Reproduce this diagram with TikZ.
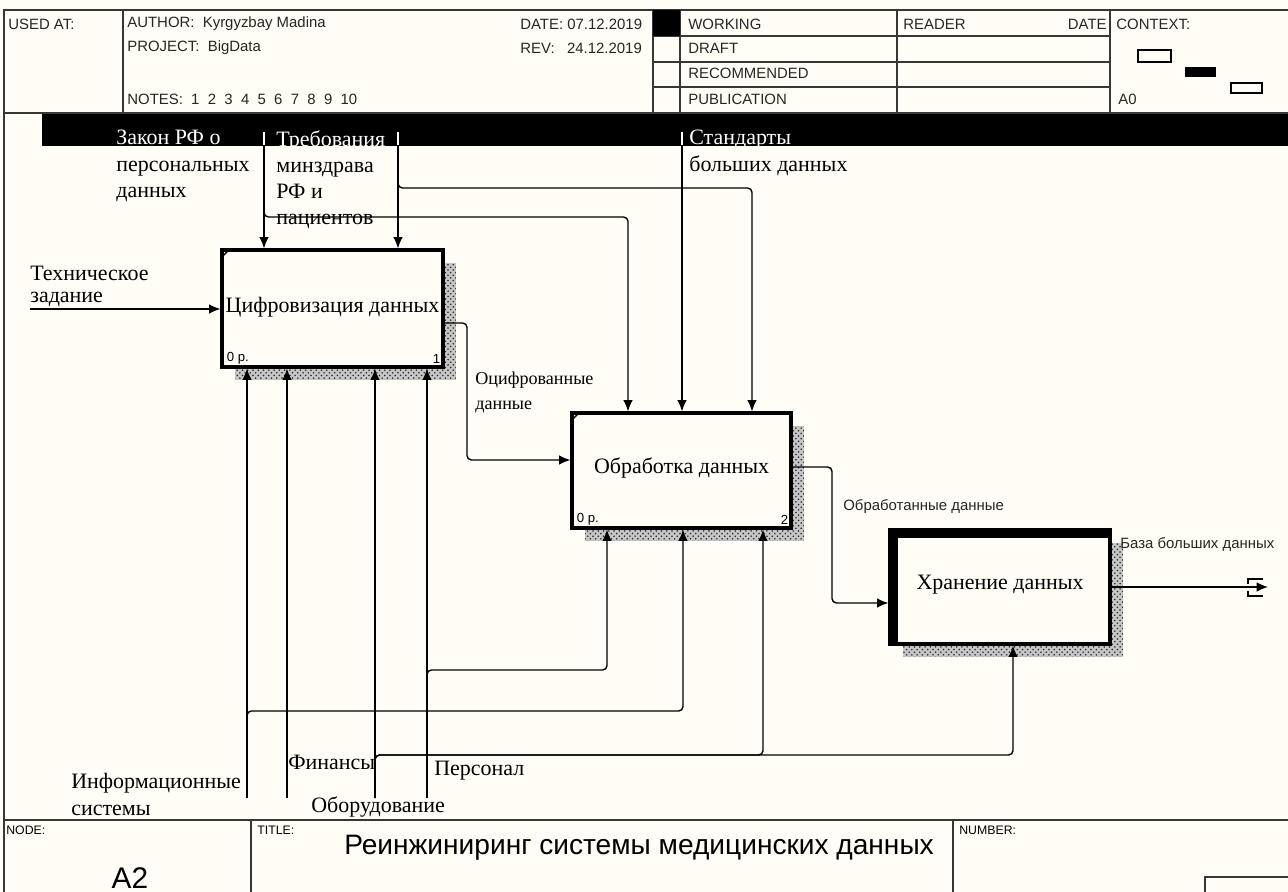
\documentclass[tikz,border=0pt]{standalone}
\usepackage{fontspec}
\setmainfont{Liberation Serif}
\newfontfamily\formfont{Liberation Sans}
\usepackage{tikz}
\usetikzlibrary{arrows.meta,calc,patterns,shadows}
\definecolor{paper}{RGB}{255,253,245}
\definecolor{rule}{RGB}{55,55,55}

\tikzset{
  func/.style={draw, line width=1.8pt, fill=paper, inner sep=0pt,
    font=\fontsize{12.5}{15}\selectfont,
    general shadow={fill=gray!45,
      postaction={pattern=crosshatch dots, pattern color=black!85},
      shadow xshift=0.26cm, shadow yshift=-0.26cm}},
  flow/.style={->, line width=0.8pt, rounded corners=2.5pt},
  arrlbl/.style={anchor=north west, align=left, inner sep=0pt,
    font=\fontsize{12.5}{14.9}\selectfont},
  formtxt/.style={anchor=west, inner sep=0pt, text=black!85,
    font=\formfont\fontsize{8.5}{10}\selectfont},
  tinytxt/.style={anchor=west, inner sep=0pt,
    font=\formfont\fontsize{7}{8}\selectfont},
}

\begin{document}
\begin{tikzpicture}[x=0.02cm,y=-0.02cm,>={Latex[length=6.5pt,width=5.5pt]}]
  \fill[paper] (0,0) rectangle (1288,892);
  \useasboundingbox (0,0) rectangle (1288,892);

  % form
  \draw[rule, line width=0.8pt] (1288,10) -- (4,10) -- (4,892);
  \draw[rule, line width=0.8pt] (4,113) -- (1288,113) (4,820) -- (1288,820);
  \draw[rule, line width=0.7pt] (123,10) -- (123,113) (653,10) -- (653,113)
    (680,10) -- (680,113) (897,10) -- (897,113) (1110,10) -- (1110,113);
  \foreach \y in {36,62,87}
    \draw[rule, line width=0.7pt] (653,\y) -- (1110,\y);
  \fill (653,10) rectangle (680,36);
  \draw[rule, line width=0.7pt] (251,820) -- (251,892) (953,820) -- (953,892);
  \draw[rule, line width=0.8pt] (1205,892) |- (1288,877);
  \draw[line width=0.8pt] (1138,50) rectangle (1171,62);
  \fill (1185,67) rectangle (1216,77);
  \draw[line width=0.8pt] (1231,83) rectangle (1262,93);

  \node[formtxt] (usedat) at (8,24) {USED AT:};
  \node[formtxt] (author) at (127,24) {AUTHOR:\ \ Kyrgyzbay Madina};
  \node[formtxt] (project) at (127,48) {PROJECT:\ \ BigData};
  \node[formtxt] (notes) at (127,99) {NOTES:\ \ 1\ \ 2\ \ 3\ \ 4\ \ 5\ \ 6\ \ 7\ \ 8\ \ 9\ \ 10};
  \node[formtxt] (date) at (520,24) {DATE: 07.12.2019};
  \node[formtxt] (rev) at (520,48) {REV:\ \ \ 24.12.2019};
  \node[formtxt] (working) at (688,24) {WORKING};
  \node[formtxt] (draft) at (688,48) {DRAFT};
  \node[formtxt] (recom) at (688,73) {RECOMMENDED};
  \node[formtxt] (public) at (688,99) {PUBLICATION};
  \node[formtxt] (reader) at (903,24) {READER};
  \node[formtxt, anchor=east] (rdate) at (1107,24) {DATE};
  \node[formtxt] (context) at (1116,24) {CONTEXT:};
  \node[formtxt] (ctxnode) at (1118,99) {A0};

  \node[tinytxt] (nodehd) at (6,830) {NODE:};
  \node[tinytxt] (titlehd) at (257,830) {TITLE:};
  \node[tinytxt] (numhd) at (959,830) {NUMBER:};
  \node[inner sep=0pt, font=\formfont\fontsize{17}{20}\selectfont] (nodeno) at (130,878) {A2};
  \node[inner sep=0pt, font=\formfont\fontsize{16}{19}\selectfont] (title) at (639,848)
    {Реинжиниринг системы медицинских данных};

  \fill (42,114) rectangle (1288,146);

  % activities
  \node[func, minimum width=4.42cm, minimum height=2.34cm] (digit) at (332.5,308.5)
    {\raisebox{4.5pt}{Цифровизация данных}};
  \node[func, minimum width=4.38cm, minimum height=2.30cm] (proc) at (681.5,470.5)
    {\raisebox{5pt}{Обработка данных}};
  \node[func, minimum width=4.40cm, minimum height=2.28cm] (store) at (1000,587)
    {\raisebox{5pt}{Хранение данных}};
  \fill (store.north west) rectangle ($(store.north east)+(0,10)$);
  \fill (store.north west) rectangle ($(store.south west)+(10,0)$);
  \draw[line width=0.9pt] ($(digit.north west)+(1,9)$) -- ($(digit.north west)+(9,1)$);
  \draw[line width=0.9pt] ($(proc.north west)+(1,9)$) -- ($(proc.north west)+(9,1)$);
  \node[tinytxt, font=\formfont\fontsize{7.5}{8}\selectfont] (digitcost) at ($(digit.south west)+(6,-10)$) {0 р.};
  \node[tinytxt, font=\formfont\fontsize{7.5}{8}\selectfont, anchor=east] (digitno) at ($(digit.south east)+(-4,-10)$) {1};
  \node[tinytxt, font=\formfont\fontsize{7.5}{8}\selectfont] (proccost) at ($(proc.south west)+(6,-10)$) {0 р.};
  \node[tinytxt, font=\formfont\fontsize{7.5}{8}\selectfont, anchor=east] (procno) at ($(proc.south east)+(-4,-10)$) {2};

  \coordinate (tz) at (30,309);
  \coordinate (law) at (264,132);
  \coordinate (req) at (398,132);
  \coordinate (std) at (682,132);
  \coordinate (lawturn) at (628,217);
  \coordinate (reqturn) at (752,188);
  \coordinate (dturn) at (467,460);
  \coordinate (pturn) at (832,603);
  \coordinate (db) at (1268,587);
  \coordinate (is) at (247,798);
  \coordinate (fin) at (287,798);
  \coordinate (eq) at (375,798);
  \coordinate (staff) at (427,798);
  \coordinate (isturn) at (683,711);
  \coordinate (eqturn) at (763,755);
  \coordinate (eqturnb) at (1013,755);
  \coordinate (staffturn) at (607,670);

  % arrows
  \draw[flow] (tz) -- (tz -| digit.west);
  \draw[flow] (law) -- (law |- digit.north);
  \draw[flow] (law) |- (lawturn) -- (lawturn |- proc.north);
  \draw[flow] (req) -- (req |- digit.north);
  \draw[flow] (req) |- (reqturn) -- (reqturn |- proc.north);
  \draw[flow] (std) -- (std |- proc.north);
  \draw[white, line width=0.8pt] (law) -- ++(0,13) (req) -- ++(0,13) (std) -- ++(0,13);
  \draw[flow] ([yshift=-0.29cm]digit.east) -| (dturn) -- (dturn -| proc.west);
  \draw[flow] ([yshift=0.07cm]proc.east) -| (pturn) -- (pturn -| store.west);
  \draw[flow] (store.east) -- (db);
  \draw[line width=0.9pt] ($(db)+(-5,-8)$) -- ++(-15,0) -- ++(0,5)
    ($(db)+(-5,9)$) -- ++(-15,0) -- ++(0,-5);
  \draw[flow] (is) -- (is |- digit.south);
  \draw[flow] (is) |- (isturn) -- (isturn |- proc.south);
  \draw[flow] (fin) -- (fin |- digit.south);
  \draw[flow] (eq) -- (eq |- digit.south);
  \draw[flow] (eq) |- (eqturn) -- (eqturn |- proc.south);
  \draw[flow] (eq) |- (eqturnb) -- (eqturnb |- store.south);
  \draw[flow] (staff) -- (staff |- digit.south);
  \draw[flow] (staff) |- (staffturn) -- (staffturn |- proc.south);

  % labels
  \node[arrlbl] (lawlbl) at (116,130) {\textcolor{white}{Закон РФ о}\\персональных\\данных};
  \node[arrlbl] (reqlbl) at (276,130) {\textcolor{white}{Требования}\\минздрава\\РФ и\\пациентов};
  \node[arrlbl] (stdlbl) at (689,130) {\textcolor{white}{Стандарты}\\больших данных};
  \node[arrlbl, font=\fontsize{12.5}{12.6}\selectfont] (tzlbl) at (30,266) {Техническое\\задание};
  \node[arrlbl, font=\fontsize{10.3}{14.2}\selectfont] (dlbl) at (475,372) {Оцифрованные\\данные};
  \node[formtxt] (plbl) at (843,507) {Обработанные данные};
  \node[formtxt] (dblbl) at (1120,545) {База больших данных};
  \node[arrlbl, font=\fontsize{12.5}{15.3}\selectfont] (islbl) at (71,773) {Информационные\\системы};
  \node[arrlbl, anchor=west] (finlbl) at (288,762) {Финансы};
  \node[arrlbl, anchor=west] (eqlbl) at (311,807) {Оборудование};
  \node[arrlbl, anchor=west] (stafflbl) at (434,771) {Персонал};
\end{tikzpicture}
\end{document}
